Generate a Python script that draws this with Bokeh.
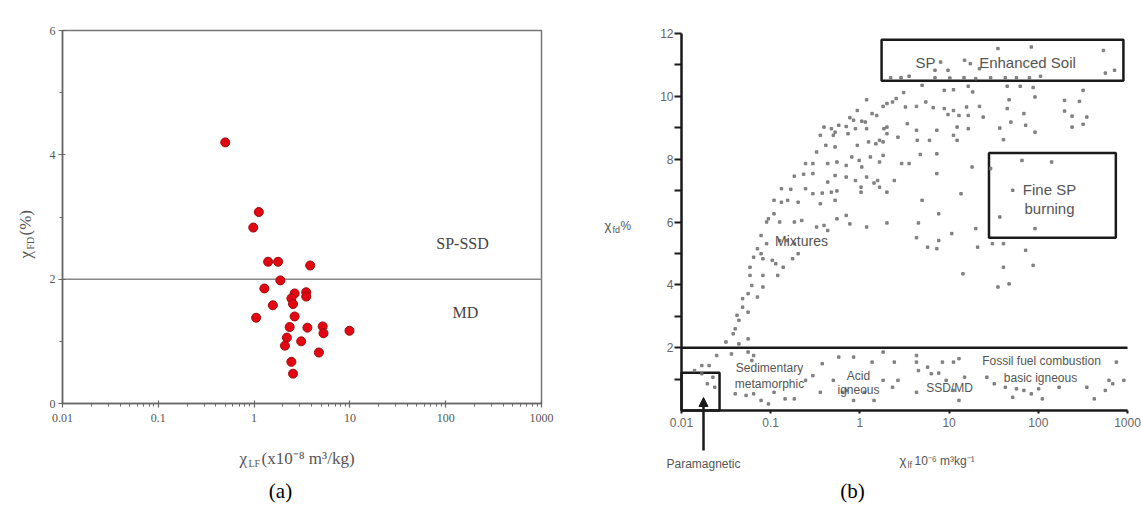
import math
from bokeh.plotting import figure
from bokeh.models import FixedTicker, CustomJSTickFormatter, Label, Arrow, NormalHead
from bokeh.layouts import row
from bokeh.embed import file_html
from bokeh.resources import INLINE

# ---------------- data: panel (a) ----------------
chi_lf_a = [0.50, 1.12, 0.98, 1.40, 1.78, 3.85, 1.88, 1.28, 2.65, 3.5, 3.5, 2.45, 2.55, 1.57,
            1.05, 2.65, 2.35, 3.6, 5.2, 5.3, 9.9, 2.2, 3.1, 2.1, 4.75, 2.45, 2.55]
chi_fd_a = [4.20, 3.08, 2.83, 2.28, 2.28, 2.22, 1.98, 1.85, 1.77, 1.79, 1.72, 1.69, 1.60, 1.58,
            1.38, 1.40, 1.23, 1.22, 1.24, 1.13, 1.17, 1.06, 1.00, 0.93, 0.82, 0.67, 0.48]
a_threshold = 2.0
a_xlim = [0.01, 1000]
a_ylim = [0, 6]

# ---------------- data: panel (b) ----------------
chi_lf_b = [
    2.21, 2.89, 3.56, 4.98, 6.95, 10.2, 14.7, 19.9, 29.2, 42.7, 56.9, 79.5, 106, 16.4, 44.8, 62.7, 87.5, 11.2, 8.83, 18.4, 318,
    9.72, 8.03, 6.95, 14.9, 17.3, 35.3, 83.4, 537, 564, 716, 21.9,
    3.09, 2.55, 2.32, 2.01, 1.82, 1.19, 1.37, 1.54, 47.0, 91.8, 197, 289, 3.24, 4.31, 5.48, 6.63, 8.83, 11.2, 15.7, 21.9, 44.8,
    0.85, 0.772, 0.935, 1.05, 1.15, 0.702, 0.891, 0.58, 12.9, 16.4, 24.1, 68.9, 197, 239, 350, 9.72, 49.3, 239, 318, 3.40, 4.31, 12.3, 1.86, 2.01, 72.2,
    0.396, 0.479, 0.527, 0.36, 0.503, 0.736, 0.415, 0.527, 1.19, 1.25, 1.51, 2.01, 2.67, 7.29, 37.0, 91.8, 16.4, 4.40, 6.03, 11.2, 12.3, 40.7, 0.935, 1.82, 1.66,
    0.327, 0.297, 0.246, 0.436, 0.553, 0.702, 0.981, 1.05, 1.31, 1.66, 1.82, 2.94, 3.56, 4.75, 7.29, 18.1, 29.2, 0.811,
    0.184, 0.234, 0.297, 0.436, 0.527, 0.702, 0.891, 1.19, 1.44, 1.66, 1.58, 7.29, 2.43, 65.7, 141,
    0.132, 0.168, 0.246, 0.297, 0.378, 0.479, 0.553, 1.03, 2.01, 0.109, 0.132, 0.155, 0.203, 0.36, 0.527, 1.03, 4.98, 13.6, 51.7,
    0.109, 0.0944, 0.090, 0.126, 0.184, 0.223, 0.327, 0.396, 0.436, 0.553, 0.702, 0.772, 1.19, 2.01, 4.53, 7.65, 19.9, 37.0, 91.8,
    0.078, 0.090, 0.126, 0.152, 0.184, 0.203, 0.071, 0.078, 4.31, 5.74, 7.29, 7.65, 10.7, 20.9, 30.6, 40.7, 72.2,
    0.0644, 0.0818, 0.104, 0.114, 0.138, 0.176, 0.0586, 0.0818, 0.120, 14.3, 40.7, 87.5,
    0.0586, 0.0614, 0.0818, 0.0558, 0.071, 0.0484, 35.3, 47.0,
    0.0484, 0.0419, 0.0558, 0.044, 0.040, 0.038, 0.044, 0.0315, 0.0558,
    0.0248, 0.0363, 0.0204, 0.0169, 0.0558, 0.0644, 0.0614, 0.014, 0.0169, 0.0195, 0.0225, 0.0236, 0.040, 0.053, 0.0644, 0.078, 0.0944, 0.109, 0.145, 0.184, 0.246, 0.36, 0.503, 0.638, 0.85, 1.13, 1.44, 1.82, 2.32, 2.67,
    4.31, 4.53, 5.74, 6.32, 7.65, 9.27, 11.2, 12.9, 14.9, 12.9, 11.2, 26.5, 32.1, 42.7, 56.9, 68.9, 51.7, 83.4, 101, 111, 171, 350, 424, 564, 683, 751, 910, 621,
    1.37, 2.43, 0.58, 0.378, 0.297, 4.31, 0.85, 1.82, 8.42, 4.31, 0.702,
]
chi_fd_b = [
    10.59, 10.59, 10.64, 10.35, 10.59, 10.58, 10.59, 10.56, 10.59, 10.59, 10.59, 10.59, 10.64, 10.32, 10.32, 10.32, 10.28, 10.21, 10.19, 10.14, 10.19,
    10.83, 11.09, 10.83, 11.15, 11.04, 11.52, 11.57, 11.46, 10.74, 10.83, 10.88,
    10.12, 9.93, 9.82, 9.77, 9.68, 9.89, 9.45, 9.39, 9.89, 9.98, 9.87, 9.84, 9.66, 9.68, 9.82, 9.64, 9.61, 9.55, 9.66, 9.68, 9.61,
    9.24, 9.32, 9.55, 9.21, 9.18, 9.04, 8.97, 9.08, 9.39, 9.39, 9.34, 9.45, 9.53, 9.37, 9.34, 9.42, 9.18, 9.02, 9.11, 9.13, 8.92, 9.02, 8.97, 9.02, 9.08,
    9.02, 8.97, 8.86, 8.76, 8.76, 8.81, 8.44, 8.39, 8.97, 8.55, 8.49, 8.81, 8.70, 8.92, 8.99, 8.86, 8.97, 8.60, 8.60, 8.76, 8.60, 8.62, 8.44, 8.55, 8.60,
    8.23, 7.86, 7.86, 7.86, 7.91, 7.80, 7.96, 7.75, 8.07, 7.91, 8.12, 7.86, 7.86, 8.15, 8.17, 7.75, 7.70, 8.07,
    7.46, 7.52, 7.54, 7.27, 7.48, 7.43, 7.32, 7.43, 7.24, 7.11, 7.32, 7.54, 7.32, 7.96, 7.91,
    7.06, 7.04, 7.06, 6.90, 6.92, 6.95, 6.99, 6.95, 6.95, 6.69, 6.63, 6.69, 6.63, 6.58, 6.69, 7.11, 6.69, 6.90, 7.01,
    6.26, 6.10, 6.00, 6.00, 6.00, 6.05, 5.84, 5.89, 5.73, 6.10, 6.21, 5.94, 5.84, 5.97, 5.97, 6.26, 5.79, 6.16, 5.79,
    5.57, 5.31, 5.41, 5.41, 5.31, 4.99, 5.15, 4.99, 5.50, 5.20, 5.15, 5.41, 5.63, 5.20, 5.31, 5.31, 5.10,
    4.88, 4.83, 4.78, 4.67, 4.56, 4.83, 4.56, 4.30, 4.30, 4.35, 4.56, 4.62,
    4.30, 3.98, 3.93, 3.72, 3.61, 3.56, 3.93, 4.03,
    3.29, 3.03, 3.13, 2.87, 2.60, 2.44, 2.12, 2.18, 2.28,
    1.75, 1.80, 1.43, 1.43, 1.86, 1.75, 1.59, 1.27, 1.17, 0.85, 1.06, 0.74, 0.53, 0.48, 0.53, 0.32, 0.21, 0.58, 0.37, 0.37, 0.96, 0.58, 0.96, 0.58, 0.32, 0.58, 0.32, 0.96, 0.74, 0.96,
    1.54, 1.27, 1.38, 1.17, 1.19, 0.96, 0.64, 0.32, 1.06, 1.65, 1.54, 1.06, 0.85, 0.74, 0.69, 0.64, 0.42, 0.53, 0.69, 0.37, 0.74, 0.74, 0.37, 0.64, 0.85, 1.54, 0.96, 0.96,
    1.54, 1.54, 1.70, 1.49, 1.11, 1.75, 1.70, 1.86, 1.54, 0.58, 0.64,
]
# region boxes of panel (b): SP enhanced soil, fine SP burning, paramagnetic
box_left = [1.75, 28, 0.01]
box_right = [900, 740, 0.0267]
box_bottom = [10.5, 5.5, 0.0]
box_top = [11.8, 8.2, 1.2]
b_threshold = 2.0
b_xlim = [0.01, 1000]
b_ylim = [0, 12]

x_ticks = [0.01, 0.1, 1, 10, 100, 1000]
x_minor = [m * 10 ** e for e in range(-2, 3) for m in range(2, 10)]

SERIF = "Liberation Serif"
SANS = "Liberation Sans"

# page geometry (screen px): where the axes of each panel sit
# panel a: 0.01 -> 62, 1000 -> 541 ; y 0 -> 403, 6 -> 30 ; figure spans x 0..566, y 0..505
# panel b: 0.01 -> 681, 1000 -> 1127 ; y 0 -> 410, 12 -> 33 ; figure spans x 566..1141, y 0..505
FIG_H = 505
SPLIT = 566
PAGE_W = 1141
def pa_x(px): return 10 ** (-2 + 5 * (px - 62) / 479)
def pa_y(py): return 6 * (403 - py) / 373
def pb_x(px): return 10 ** (-2 + 5 * (px - 681) / 446)
def pb_y(py): return 12 * (410 - py) / 377


def txt(p, x, y, text, size, font, color, align="center", angle=0.0):
    p.add_layout(Label(x=x, y=y, text=text, text_font_size=size, text_font=font,
                       text_color=color, text_align=align, text_baseline="middle", angle=angle))


fmt = CustomJSTickFormatter(code="return String(tick)")

# ---------------- panel (a) ----------------
pa = figure(x_axis_type="log", x_range=(pa_x(0), pa_x(SPLIT)), y_range=(pa_y(FIG_H), pa_y(0)),
            frame_width=SPLIT, frame_height=FIG_H, min_border=0,
            output_backend="svg", toolbar_location=None)
pa.xgrid.visible = False
pa.ygrid.visible = False
pa.outline_line_color = None
pa.xaxis.fixed_location = a_ylim[0]
pa.yaxis.fixed_location = a_xlim[0]
pa.xaxis.bounds = tuple(a_xlim)
pa.yaxis.bounds = tuple(a_ylim)
pa.xaxis.ticker = FixedTicker(ticks=x_ticks, minor_ticks=x_minor)
pa.xaxis.formatter = fmt
pa.yaxis.ticker = FixedTicker(ticks=[0, 2, 4, 6], minor_ticks=[1, 3, 5])
for ax in (pa.xaxis[0], pa.yaxis[0]):
    ax.axis_line_color = "#666666"
    ax.axis_line_width = 1.5
    ax.major_tick_line_color = "#666666"
    ax.minor_tick_line_color = "#666666"
    ax.major_tick_line_width = 1.2
    ax.major_tick_in = 3
    ax.major_tick_out = 4
    ax.minor_tick_in = 0
    ax.minor_tick_out = 3
    ax.major_label_text_font = SERIF
    ax.major_label_text_font_size = "12px"
    ax.major_label_text_color = "#555555"
pa.xaxis.major_label_standoff = 6
pa.yaxis.major_label_standoff = 3

# plot frame box and the 2 % threshold line
pa.quad(left=[a_xlim[0]], right=[a_xlim[1]], bottom=[a_ylim[0]], top=[a_ylim[1]],
        fill_color=None, line_color="#777777", line_width=1.5)
pa.segment(x0=[a_xlim[0]], x1=[a_xlim[1]], y0=[a_threshold], y1=[a_threshold],
           line_color="#888888", line_width=1.5)
pa.scatter(chi_lf_a, chi_fd_a, size=9, fill_color="#e30613", line_color="#9e0a0a", line_width=1)

txt(pa, pa_x(462), pa_y(243), "SP-SSD", "16px", SERIF, "#444444")
txt(pa, pa_x(465), pa_y(312), "MD", "16px", SERIF, "#444444")
# x label  χLF(x10⁻⁸ m³/kg)
txt(pa, pa_x(239), pa_y(458), "χ", "17px", SERIF, "#555555", align="left")
txt(pa, pa_x(248), pa_y(463), "LF", "10px", SERIF, "#555555", align="left")
txt(pa, pa_x(261), pa_y(458), "(x10⁻⁸ m³/kg)", "17px", SERIF, "#555555", align="left")
# y label  χFD(%)
txt(pa, pa_x(25), pa_y(258), "χ", "17px", SERIF, "#555555", align="left", angle=math.pi / 2)
txt(pa, pa_x(30), pa_y(249), "FD", "10px", SERIF, "#555555", align="left", angle=math.pi / 2)
txt(pa, pa_x(25), pa_y(235), "(%)", "17px", SERIF, "#555555", align="left", angle=math.pi / 2)
txt(pa, pa_x(280), pa_y(490), "(a)", "21px", SERIF, "#000000")

# ---------------- panel (b) ----------------
pb = figure(x_axis_type="log", x_range=(pb_x(SPLIT), pb_x(PAGE_W)), y_range=(pb_y(FIG_H), pb_y(0)),
            frame_width=PAGE_W - SPLIT, frame_height=FIG_H, min_border=0,
            output_backend="svg", toolbar_location=None)
pb.xgrid.visible = False
pb.ygrid.visible = False
pb.outline_line_color = None
pb.xaxis.fixed_location = b_ylim[0]
pb.yaxis.fixed_location = b_xlim[0]
pb.xaxis.bounds = tuple(b_xlim)
pb.yaxis.bounds = tuple(b_ylim)
pb.xaxis.ticker = FixedTicker(ticks=x_ticks)
pb.xaxis.formatter = fmt
pb.yaxis.ticker = FixedTicker(ticks=[2, 4, 6, 8, 10, 12], minor_ticks=[1, 3, 5, 7, 9, 11])
for ax in (pb.xaxis[0], pb.yaxis[0]):
    ax.axis_line_color = "#1a1a1a"
    ax.axis_line_width = 2.5
    ax.major_tick_line_color = "#1a1a1a"
    ax.minor_tick_line_color = "#1a1a1a"
    ax.major_tick_line_width = 2
    ax.minor_tick_line_width = 2
    ax.major_tick_in = 0
    ax.minor_tick_in = 0
    ax.major_label_text_font = SANS
    ax.major_label_text_font_size = "12px"
    ax.major_label_text_color = "#666666"
pb.yaxis.major_tick_out = 7
pb.yaxis.minor_tick_out = 7
pb.yaxis.major_label_standoff = 1
pb.xaxis.major_tick_out = 3
pb.xaxis.minor_tick_out = 0
pb.xaxis.major_label_standoff = 4

pb.segment(x0=[b_xlim[0]], x1=[b_xlim[1]], y0=[b_threshold], y1=[b_threshold],
           line_color="#1a1a1a", line_width=2.5)
pb.quad(left=box_left, right=box_right, bottom=box_bottom, top=box_top,
        fill_color=None, line_color="#1a1a1a", line_width=2.5)
pb.scatter(chi_lf_b, chi_fd_b, marker="square", size=2.5, color="#6e6e6e", alpha=0.8)

GREY = "#555555"
txt(pb, pb_x(925), pb_y(62), "SP", "15px", SANS, GREY)
txt(pb, pb_x(1027), pb_y(62), "Enhanced Soil", "15px", SANS, GREY)
txt(pb, pb_x(1049), pb_y(189), "Fine SP", "15px", SANS, GREY)
txt(pb, pb_x(1049), pb_y(208), "burning", "15px", SANS, GREY)
txt(pb, pb_x(801), pb_y(240), "Mixtures", "14px", SANS, GREY)
txt(pb, pb_x(769), pb_y(367), "Sedimentary", "12px", SANS, GREY)
txt(pb, pb_x(769), pb_y(383), "metamorphic", "12px", SANS, GREY)
txt(pb, pb_x(858), pb_y(375), "Acid", "12px", SANS, GREY)
txt(pb, pb_x(858), pb_y(389), "igneous", "12px", SANS, GREY)
txt(pb, pb_x(949), pb_y(387), "SSD/MD", "12px", SANS, GREY)
txt(pb, pb_x(1041), pb_y(360), "Fossil fuel combustion", "12px", SANS, GREY)
txt(pb, pb_x(1040), pb_y(377), "basic igneous", "12px", SANS, GREY)
txt(pb, pb_x(703), pb_y(463), "Paramagnetic", "12px", SANS, GREY)
# y label  χfd%
txt(pb, pb_x(604), pb_y(225), "χ", "13px", SANS, GREY, align="left")
txt(pb, pb_x(612), pb_y(229), "fd", "9px", SANS, GREY, align="left")
txt(pb, pb_x(620), pb_y(225), "%", "12px", SANS, GREY, align="left")
# x label  χlf 10⁻⁶ m³kg⁻¹
txt(pb, pb_x(899), pb_y(460), "χ", "13px", SANS, GREY, align="left")
txt(pb, pb_x(907), pb_y(464), "lf", "9px", SANS, GREY, align="left")
txt(pb, pb_x(914), pb_y(460), "10⁻⁶ m³kg⁻¹", "12px", SANS, GREY, align="left")
txt(pb, pb_x(852), pb_y(490), "(b)", "21px", SERIF, "#000000")

pb.add_layout(Arrow(end=NormalHead(size=9, fill_color="#1a1a1a", line_color="#1a1a1a"),
                    x_start=pb_x(703), y_start=pb_y(450), x_end=pb_x(703), y_end=pb_y(397),
                    line_color="#1a1a1a", line_width=2.5))

layout = row(pa, pb)
open("out.html", "w").write(file_html(layout, INLINE))
